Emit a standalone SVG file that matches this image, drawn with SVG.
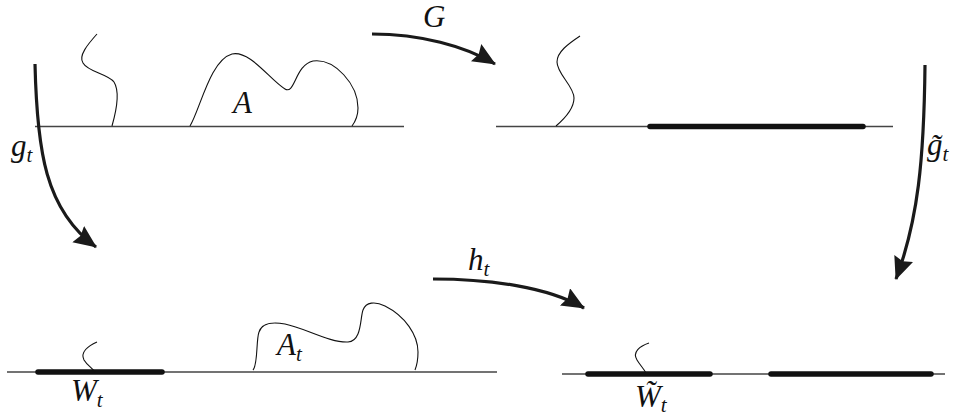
<svg xmlns="http://www.w3.org/2000/svg" width="960" height="418" viewBox="0 0 960 418">
<style>
.base{stroke:#444;stroke-width:1.3;fill:none}
.thick{stroke:#111;stroke-width:5.5;stroke-linecap:round;fill:none}
.curve{stroke:#111;stroke-width:1.1;fill:none}
.arrow{stroke:#1a1a1a;stroke-width:3.2;fill:none;marker-end:url(#ah)}
.lbl{font-family:"Liberation Serif","DejaVu Serif",serif;font-style:italic;font-size:31px;fill:#111}
.sub{font-size:21px}
</style>
<defs>
<marker id="ah" markerUnits="userSpaceOnUse" markerWidth="26" markerHeight="22" refX="22" refY="10" orient="auto">
<path d="M0,0 L23,10 L0,20 L3,10 z" fill="#1a1a1a"/>
</marker>
</defs>
<rect width="960" height="418" fill="#fff"/>

<g id="top-left">
<line class="base" x1="35" y1="126.5" x2="404" y2="126.5"/>
<path class="curve" d="M97,34 C88,44 78,56 83,63 C88,72 108,74 114,82 C119,90 118,105 112,126"/>
<path class="curve" d="M190,126 C200,110 210,60 232,54 C250,50 270,80 285,89 C295,95 295,65 313,61 C335,58 358,85 358,108 C358,117 355,122 352,126"/>
<text class="lbl" x="233" y="113">A</text>
</g>

<g id="top-right">
<line class="base" x1="496" y1="126.5" x2="893" y2="126.5"/>
<line class="thick" x1="650" y1="126.5" x2="863" y2="126.5"/>
<path class="curve" d="M580,36 C568,44 557,52 557,62 C557,74 574,86 574,98 C574,110 563,120 556,126"/>
</g>

<g id="bottom-left">
<line class="base" x1="7" y1="372" x2="497" y2="372"/>
<line class="thick" x1="38" y1="372" x2="162" y2="372"/>
<path class="curve" d="M97,342 C88,346 80,352 84,360 C87,365 92,368 95,372"/>
<path class="curve" d="M253,370 C258,365 256,340 259,332 C262,322 275,322 285,324 C305,328 330,343 348,342 C362,341 360,318 363,310 C366,302 375,301 385,306 C405,316 418,335 418,352 C418,360 417,365 415,370"/>
<text class="lbl" x="277" y="355">A<tspan class="sub" dy="6">t</tspan></text>
<text class="lbl" x="71" y="401">W<tspan class="sub" dy="6">t</tspan></text>
</g>

<g id="bottom-right">
<line class="base" x1="562" y1="374" x2="945" y2="374"/>
<line class="thick" x1="588" y1="374" x2="710" y2="374"/>
<line class="thick" x1="771" y1="374" x2="931" y2="374"/>
<path class="curve" d="M649,343 C640,346 632,352 637,360 C640,365 644,369 646,373"/>
<text class="lbl" x="635" y="407">W̃<tspan class="sub" dy="5">t</tspan></text>
</g>

<g id="connectors">
<path class="arrow" d="M372,34 C420,34 465,46 495,64"/>
<path class="arrow" d="M35,64 C37,150 45,210 96,247"/>
<path class="arrow" d="M925,65 C924,160 918,220 896,279"/>
<path class="arrow" d="M433,279 C490,279 548,287 584,308"/>
<text class="lbl" x="423" y="27">G</text>
<text class="lbl" x="11" y="156">g<tspan class="sub" dy="6">t</tspan></text>
<text class="lbl" x="927" y="155">g̃<tspan class="sub" dy="6">t</tspan></text>
<text class="lbl" x="468" y="270">h<tspan class="sub" dy="6">t</tspan></text>
</g>
</svg>
